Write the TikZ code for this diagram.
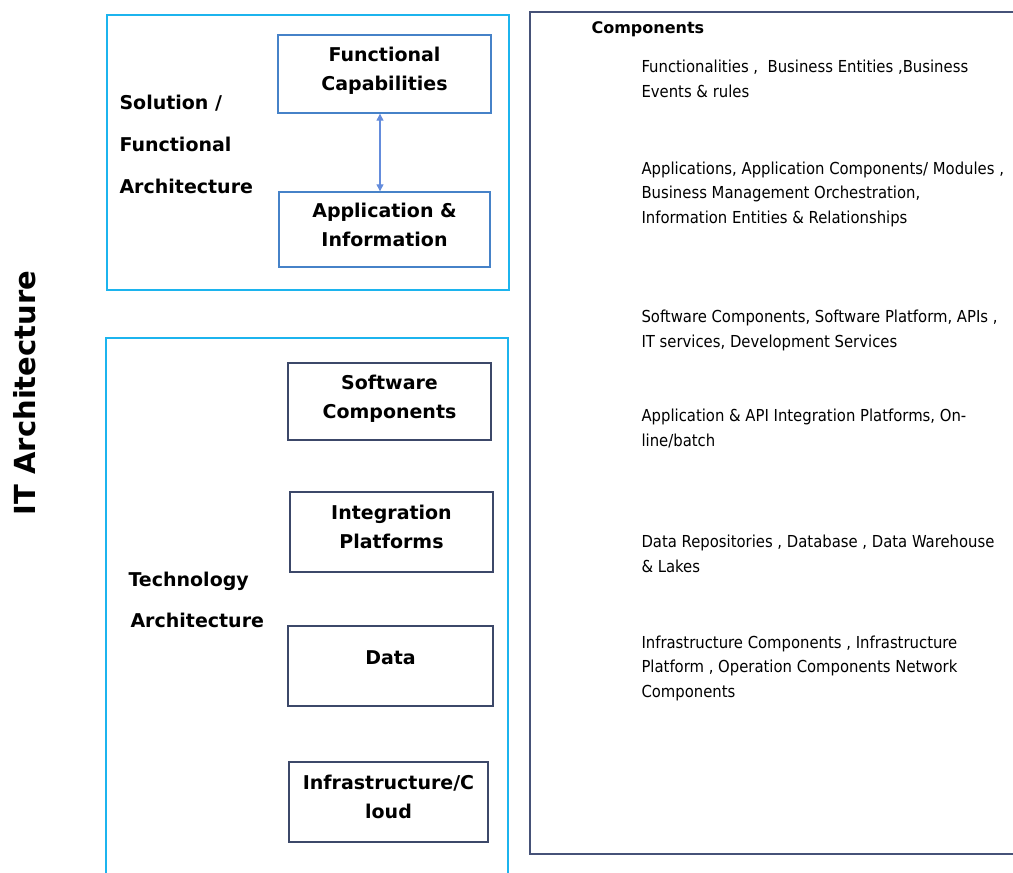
\documentclass[tikz,border=0pt]{standalone}
\usepackage{fontspec}
\setmainfont{DejaVu Sans}
\newfontfamily\condfont{DejaVu Sans Condensed}
\usetikzlibrary{arrows.meta}
\definecolor{framecyan}{RGB}{28,180,238}
\definecolor{solblue}{RGB}{70,130,200}
\definecolor{techslate}{RGB}{60,72,105}
\definecolor{panelslate}{RGB}{70,82,120}
\definecolor{linkblue}{RGB}{100,140,220}

\begin{document}
\begin{tikzpicture}[x=1pt,y=-1pt,
  group/.style={draw=framecyan, line width=2.8pt},
  layerbox/.style={line width=1.4pt, inner sep=0pt, align=center, text depth=9.5pt,
    font=\bfseries\fontsize{19}{29}\selectfont},
  solbox/.style={layerbox, draw=solblue},
  techbox/.style={layerbox, draw=techslate},
  grouplabel/.style={anchor=west, align=left, font=\bfseries\fontsize{19}{42}\selectfont},
  desc/.style={anchor=west, align=left, font=\condfont\fontsize{16.5}{24.5}\selectfont},
  link/.style={draw=linkblue, line width=1.3pt, {Triangle[length=7pt,width=7pt]}-{Triangle[length=7pt,width=7pt]}}
]
\useasboundingbox (0,0) rectangle (1013,873);

% side title
\node[rotate=90, font=\bfseries\fontsize{29}{32}\selectfont] (title) at (25,393) {IT Architecture};

% solution / functional architecture group
\draw[group] (107,15) rectangle (509,290);
\node[grouplabel] (sollabel) at (116,144) {Solution /\\Functional\\Architecture};
\node[solbox, minimum width=213pt, minimum height=78pt] (fc) at (384.5,74) {Functional\\Capabilities};
\node[solbox, minimum width=211pt, minimum height=75pt] (ai) at (384.5,229.5) {Application \&\\Information};
\draw[link] ([xshift=-4.5pt]fc.south) -- ([xshift=-4.5pt]ai.north);

% technology architecture group (continues past the lower edge)
\draw[group] (106,880) -- (106,338) -- (508,338) -- (508,880);
\node[grouplabel, font=\bfseries\fontsize{19}{41}\selectfont] (techlabel) at (125,600) {Technology\\\hspace{2pt}Architecture};
\node[techbox, minimum width=203pt, minimum height=77pt] (sw) at (389.5,401.5) {Software\\Components};
\node[techbox, minimum width=203pt, minimum height=80pt] (ip) at (391.5,532) {Integration\\Platforms};
\node[techbox, minimum width=205pt, minimum height=80pt, text depth=16pt] (data) at (390.5,666) {Data};
\node[techbox, minimum width=199pt, minimum height=80pt] (infra) at (388.5,802) {Infrastructure/C\\loud};

% components panel
\draw[draw=panelslate, line width=1.3pt] (1020,12) -- (530,12) -- (530,854) -- (1020,854);
\node[anchor=west, font=\bfseries\fontsize{16}{20}\selectfont] (comphead) at (588,29.5) {Components};
\node[desc] (d1) at (638,79) {Functionalities ,\ \ Business Entities ,Business\\Events \& rules};
\node[desc] (d2) at (638,194) {Applications, Application Components/ Modules ,\\Business Management Orchestration,\\Information Entities \& Relationships};
\node[desc] (d3) at (638,330.5) {Software Components, Software Platform, APIs ,\\IT services, Development Services};
\node[desc] (d4) at (638,428.5) {Application \& API Integration Platforms, On-\\line/batch};
\node[desc] (d5) at (638,554) {Data Repositories , Database , Data Warehouse\\\& Lakes};
\node[desc] (d6) at (638,668) {Infrastructure Components , Infrastructure\\Platform , Operation Components Network\\Components};
\end{tikzpicture}
\end{document}
